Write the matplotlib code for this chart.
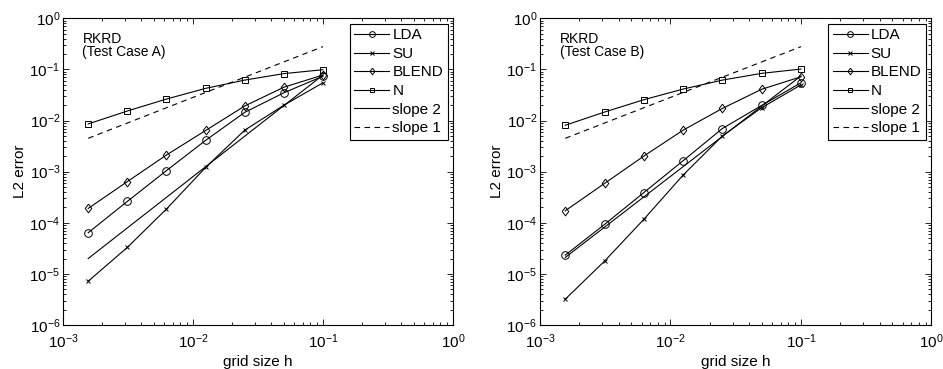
import numpy as np
import matplotlib
matplotlib.use('Agg')
from matplotlib import pyplot as plt

plt.rcParams['font.family'] = ['Liberation Sans', 'DejaVu Sans']
plt.rcParams['mathtext.fontset'] = 'custom'
plt.rcParams['mathtext.rm'] = 'Liberation Sans'
plt.rcParams['mathtext.it'] = 'Liberation Sans:italic'
plt.rcParams['mathtext.bf'] = 'Liberation Sans:bold'

# grid sizes (same for both test cases)
h = [0.0015625, 0.003125, 0.00625, 0.0125, 0.025, 0.05, 0.1]

# Test case A
lda_a = [6.4e-5, 2.62e-4, 1.05e-3, 4.1e-3, 1.45e-2, 3.5e-2, 7.4e-2]
su_a = [7.2e-6, 3.3e-5, 1.86e-4, 1.21e-3, 6.5e-3, 2.0e-2, 5.5e-2]
blend_a = [1.91e-4, 6.4e-4, 2.12e-3, 6.4e-3, 1.93e-2, 4.5e-2, 7.8e-2]
n_a = [8.6e-3, 1.54e-2, 2.64e-2, 4.27e-2, 6.2e-2, 8.3e-2, 9.9e-2]
slope2_a = [2.0e-5, 7.8e-2]
slope1_a = [4.5e-3, 2.8e-1]

# Test case B
lda_b = [2.33e-5, 9.3e-5, 3.9e-4, 1.64e-3, 7.0e-3, 1.98e-2, 5.5e-2]
su_b = [3.2e-6, 1.78e-5, 1.17e-4, 8.6e-4, 5.0e-3, 1.79e-2, 5.0e-2]
blend_b = [1.72e-4, 5.9e-4, 2.02e-3, 6.5e-3, 1.73e-2, 4.1e-2, 7.2e-2]
n_b = [8.1e-3, 1.47e-2, 2.56e-2, 4.14e-2, 6.2e-2, 8.4e-2, 1.02e-1]
slope2_b = [2.1e-5, 7.5e-2]
slope1_b = [4.5e-3, 2.8e-1]

ends = [h[0], h[-1]]

# matlab-like diamond, a bit taller than wide
diamond = [(0, 1), (0.75, 0), (0, -1), (-0.75, 0), (0, 1)]

fig = plt.figure(figsize=(9.43, 3.69), dpi=100)
ax_a = fig.add_axes([0.0668, 0.1192, 0.4136, 0.831])
ax_b = fig.add_axes([0.5726, 0.1192, 0.4152, 0.831])

panels = [
    (ax_a, lda_a, su_a, blend_a, n_a, slope2_a, slope1_a, 'RKRD\n(Test Case A)'),
    (ax_b, lda_b, su_b, blend_b, n_b, slope2_b, slope1_b, 'RKRD\n(Test Case B)'),
]

lw = 0.8
for ax, lda, su, blend, n, s2, s1, label in panels:
    ax.loglog(h, lda, 'k-', marker='o', lw=lw, ms=5.5, mfc='none', mew=0.7, label='LDA')
    ax.loglog(h, su, 'k-', marker='x', lw=lw, ms=3.5, mew=0.7, label='SU')
    ax.loglog(h, blend, 'k-', marker=diamond, lw=lw, ms=6.3, mfc='none', mew=0.7, label='BLEND')
    ax.loglog(h, n, 'k-', marker='s', lw=lw, ms=4.5, mfc='none', mew=0.7, label='N')
    ax.loglog(ends, s2, 'k-', lw=lw, label='slope 2')
    ax.loglog(ends, s1, 'k--', lw=lw, dashes=(5, 4), label='slope 1')

    ax.set_xlim(1e-3, 1)
    ax.set_ylim(1e-6, 1)
    ax.set_xticks([1e-3, 1e-2, 1e-1, 1])
    ax.set_yticks([1e-6, 1e-5, 1e-4, 1e-3, 1e-2, 1e-1, 1])
    ax.tick_params(which='both', direction='in', top=True, right=True,
                   labelsize=11, width=0.6)
    ax.tick_params(axis='y', which='major', pad=2)
    ax.tick_params(axis='x', which='major', pad=5)
    ax.tick_params(which='major', length=4)
    ax.tick_params(which='minor', length=2)
    for sp in ax.spines.values():
        sp.set_linewidth(0.8)

    ax.set_xlabel('grid size h', fontsize=11, labelpad=3)
    ax.set_ylabel('L2 error', fontsize=11, labelpad=2)
    ax.text(0.05, 0.955, label, transform=ax.transAxes, fontsize=10,
            va='top', ha='left', linespacing=0.9)

    leg = ax.legend(loc='upper right', fontsize=11, handlelength=2.3,
                    handletextpad=0.2, labelspacing=0.3, borderpad=0.3,
                    borderaxespad=0.35, fancybox=False, framealpha=1,
                    markerscale=0.75)
    leg.get_frame().set_edgecolor('k')
    leg.get_frame().set_linewidth(0.8)

fig.savefig('out.png', dpi=100)
